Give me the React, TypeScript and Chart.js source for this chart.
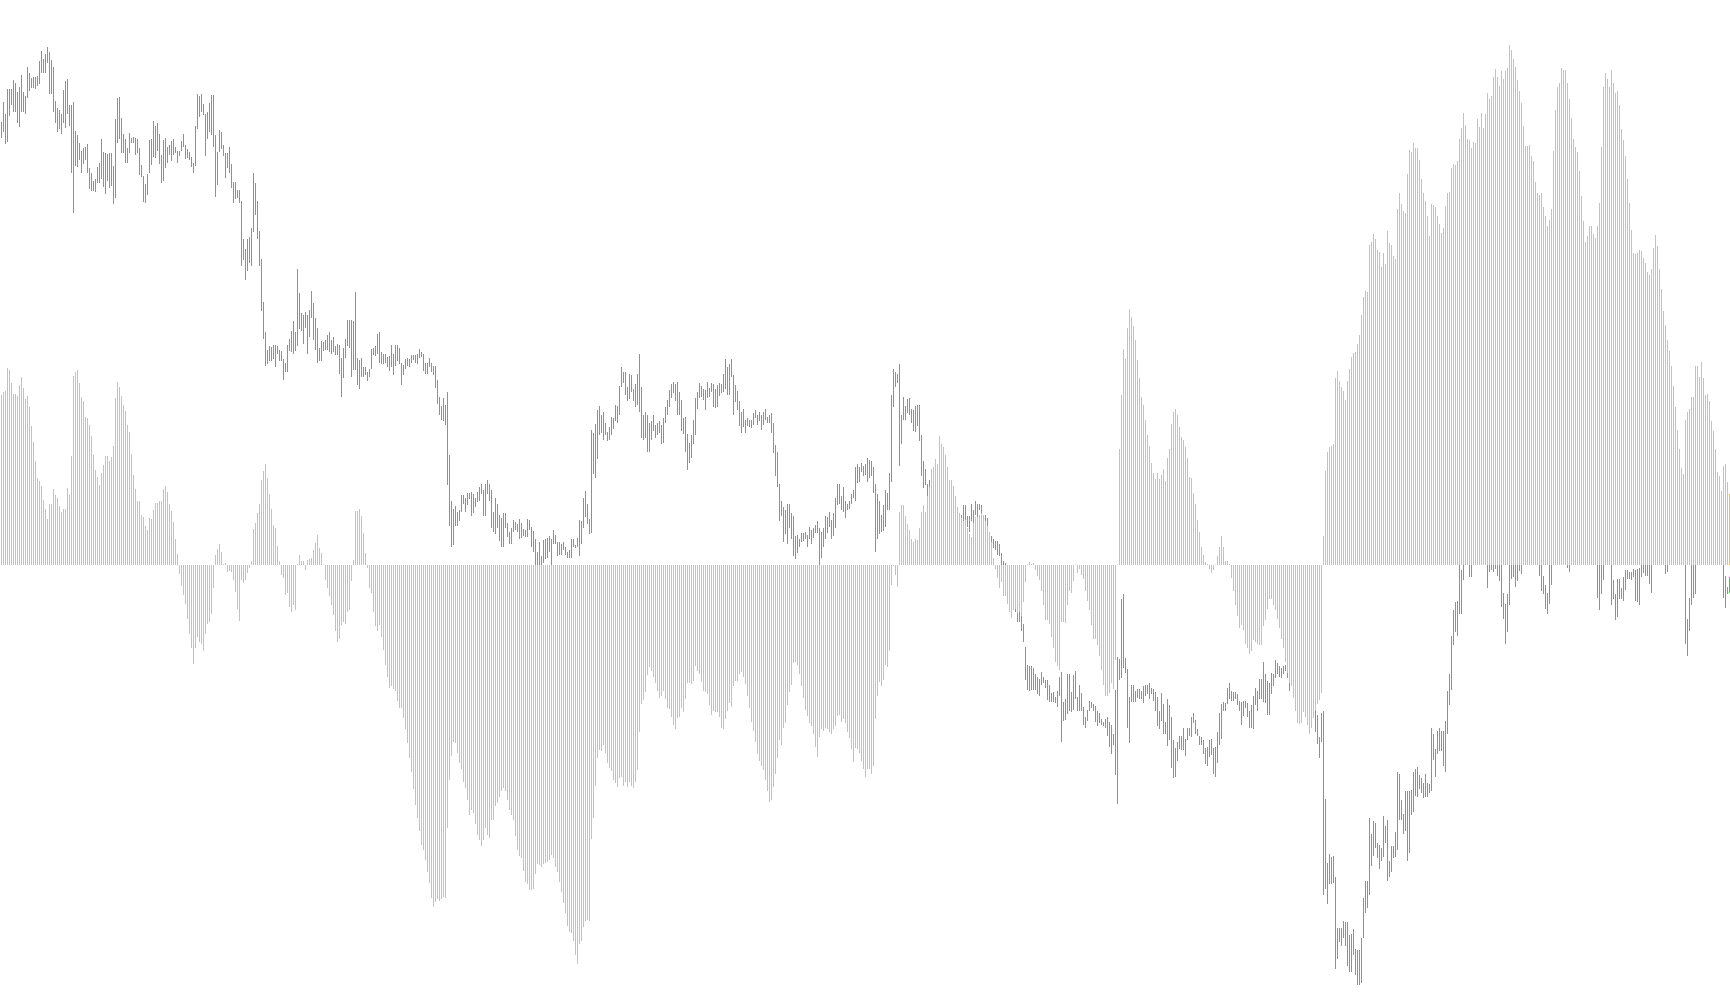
import React, { useEffect, useRef } from "react";
import { Chart, registerables } from "chart.js";

Chart.register(...registerables);

// Histogram (yellow) values, one per bar
const histogram: number[] = [
  170,173,174,197,195,182,171,171,169,180,
  188,177,166,169,158,139,123,104,87,84,
  79,65,56,46,61,61,76,70,67,59,
  53,56,56,77,70,109,189,193,195,182,
  168,164,148,147,140,129,110,95,88,80,
  92,100,109,109,104,108,119,167,183,178,
  169,160,154,140,133,111,90,76,64,64,
  50,48,39,35,47,46,55,62,62,64,
  64,76,79,73,61,54,43,26,11,-9,
  -21,-30,-39,-54,-69,-83,-99,-83,-72,-77,
  -79,-86,-69,-59,-57,-49,-23,10,16,21,
  13,1,2,-7,-6,-7,-15,-27,-44,-56,
  -15,-18,-15,-8,-3,4,36,42,52,61,
  85,94,101,87,71,56,40,37,19,4,
  -10,-13,-30,-28,-42,
  -47,-40,-45,1,10,4,4,-5,5,6,
  7,15,22,30,17,12,0.5,-15,-23,-31,
  -40,-50,-66,-77,-74,-60,-57,-59,-47,-45,
  -16,5,54,54,56,49,32,12,-3,-23,
  -28,-47,-61,-66,-60,-72,-85,-100,-112,-123,
  -121,-124,-126,-136,-143,-143,-153,-164,-178,-193,
  -207,-224,-240,-253,-266,-280,-285,-295,-307,-318,
  -333,-342,-337,-334,-336,-334,-332,-333,-263,-215,
  -191,-177,-178,-188,-198,-204,-217,-223,-235,-250,
  -245,-248,-259,-270,-275,-281,-275,-263,-270,-273,
  -255,-255,-241,-238,-232,-226,-223,-226,-235,-245,
  -250,-255,-271,-285,-291,-293,-306,-317,-319,-325,
  -325,-324,-309,-299,-300,-302,-299,-298,-297,-295,
  -290,-293,-302,-307,-317,-327,-338,-348,-361,-367,
  -368,-376,-390,-399,-379,
  -376,-362,-356,-355,-356,-274,-253,-221,-193,-185,
  -186,-180,-188,-198,-203,-206,-215,-218,-222,-213,
  -212,-221,-217,-222,-217,-221,-223,-217,-205,-167,
  -139,-135,-127,-110,-102,-106,-112,-118,-126,-133,
  -131,-126,-134,-143,-144,-152,-160,-164,-153,-152,
  -143,-147,-134,-118,-118,-119,-116,-101,-106,-109,
  -117,-126,-127,-129,-140,-150,-146,-147,-147,-152,
  -163,-164,-154,-146,-138,-142,-121,-116,-116,-109,
  -107,-112,-119,-131,-143,-157,-166,-177,-189,-196,
  -201,-205,-215,-226,-237,-235,-222,-209,-193,-175,
  -180,-163,-158,-140,-127,-120,-98,-97,-100,-109,
  -121,-133,-145,-151,-158,-161,-169,-182,-192,-172,
  -164,-166,-163,-164,-167,-169,-164,-161,-151,-150,
  -157,-154,-158,-167,-173,-184,-197,-183,-184,-188,
  -196,-204,-212,-204,-204,
  -209,-201,-154,-131,-117,-121,-115,-100,-102,-86,
  -20,-1,-10,-22,53,60,60,49,41,35,
  26,23,26,25,37,53,60,53,69,78,
  96,98,106,101,129,121,118,110,98,85,
  85,79,69,58,52,47,44,45,37,31,
  28,42,48,48,50,52,50,44,39,33,
  23,7,-4,-13,-23,-17,-31,-31,-39,-47,
  -53,-45,-44,-48,-47,-51,-37,-17,0.5,3,
  1,2,-5,-11,-15,-26,-40,-55,-55,-59,
  -72,-83,-97,-101,-105,-57,-57,-58,-40,-26,
  -28,-16,0.5,-8,-4,-10,-14,-26,-36,-45,
  -60,-74,-74,-80,-91,-105,-120,-131,-131,-128,
  -118,-124,-95,0.5,116,170,216,206,237,256,
  248,239,225,205,187,168,160,145,130,119,
  102,92,86,92,86,
  90,96,84,107,116,141,153,156,150,138,
  128,125,118,107,88,87,72,61,45,33,
  18,10,3,1,-4,-8,-5,0.5,9,18,
  29,18,4,4,1,-13,-26,-40,-51,-63,
  -60,-65,-79,-83,-89,-86,-75,-77,-79,-80,
  -80,-61,-55,-44,-34,-34,-40,-45,-54,-63,
  -74,-83,-97,-108,-118,-121,-133,-146,-158,-159,
  -158,-147,-152,-160,-169,-163,-153,-146,-139,-135,
  -128,29,94,113,118,119,121,187,194,184,
  178,174,165,184,196,208,212,213,221,230,
  250,268,274,273,320,323,331,326,315,313,
  298,312,301,334,322,320,309,306,356,372,
  361,354,352,391,415,413,422,417,417,405,
  386,372,364,349,329,361,360,358,349,341,
  332,337,359,372,373,
  397,401,400,404,426,437,452,440,426,425,
  417,423,422,446,438,452,437,451,472,466,
  469,488,496,488,479,494,486,494,497,520,
  515,506,498,485,474,462,439,419,419,420,
  409,404,383,372,370,372,358,349,339,345,
  356,414,455,478,482,497,495,495,482,466,
  447,426,418,413,394,369,344,323,329,339,
  339,331,327,339,362,418,478,492,486,478,
  495,482,472,474,460,436,425,409,386,362,
  335,312,311,312,315,314,307,302,293,290,
  296,317,330,319,296,276,254,240,225,214,
  199,179,158,135,116,97,91,145,153,156,
  168,168,199,199,188,203,187,170,171,164,
  144,134,116,93,89,74,99,101,83,71,
];

// Price range bars (green): high of each bar
const barHigh: number[] = [
  443,463,451,476,476,476,485,482,473,478,
  490,473,469,498,492,487,488,488,489,504,
  514,506,511,518,513,505,498,464,457,455,
  451,475,484,486,460,460,463,434,430,422,
  414,417,418,421,397,392,384,386,398,402,
  426,413,412,411,412,412,399,446,467,468,
  447,431,426,417,432,427,428,427,426,417,
  400,389,381,391,425,426,444,439,442,431,
  410,425,427,418,420,424,426,418,414,414,
  424,431,420,416,413,408,402,439,471,469,
  471,461,451,453,462,470,470,430,413,435,
  433,420,412,412,418,401,383,383,375,375,
  364,326,316,326,328,337,392,382,364,334,
  306,263,233,215,219,218,220,220,219,215,
  214,206,202,220,226,
  234,244,233,296,272,252,250,253,250,255,
  274,262,247,237,217,224,223,225,230,233,
  225,228,219,221,220,207,217,226,245,245,
  245,244,273,207,205,207,198,198,193,196,
  216,217,219,231,233,213,211,211,208,209,
  220,211,220,220,217,202,200,206,207,206,
  210,210,210,211,216,213,211,202,202,207,
  202,199,199,185,168,159,167,160,173,110,
  64,56,59,53,55,70,70,67,72,72,
  73,71,67,73,78,81,75,81,85,81,
  75,53,67,61,50,47,52,52,42,33,
  37,45,43,41,46,42,36,35,46,45,
  38,34,26,13,23,9,25,26,27,29,
  26,35,30,23,23,21,23,18,13,15,
  26,26,20,27,45,
  44,67,74,61,46,135,132,141,155,159,
  150,153,142,133,138,148,147,160,159,179,
  198,193,193,178,191,190,176,181,191,211,
  178,150,153,150,142,144,150,140,142,144,
  140,147,158,165,175,181,183,181,183,173,
  165,147,148,131,122,130,145,167,173,182,
  179,176,175,183,177,182,181,176,180,182,
  181,191,206,198,201,206,190,180,174,164,
  153,156,145,147,145,145,152,155,150,153,
  150,153,156,148,150,152,142,120,113,81,
  64,58,55,61,61,52,49,29,30,26,
  32,32,33,30,38,35,37,40,44,37,
  33,37,49,48,53,45,52,67,81,81,
  69,78,64,61,64,71,75,98,101,98,
  102,99,101,107,105,
  104,98,81,71,64,50,60,75,72,92,
  170,196,193,191,201,150,168,159,166,167,
  156,155,159,160,160,130,104,96,81,85,
  80,78,74,70,72,68,64,66,62,60,
  62,58,55,53,50,50,60,60,49,49,
  61,55,64,61,61,60,50,50,47,33,
  29,26,24,24,21,12,4,2,-5,-10,
  -15,-20,-36,-39,-45,-36,-59,-82,-100,-101,
  -101,-103,-109,-112,-114,-107,-112,-115,-115,-120,
  -128,-127,-132,-126,-112,-107,-137,-134,-109,-109,
  -127,-110,-106,-132,-120,-128,-142,-152,-145,-136,
  -137,-139,-141,-146,-148,-154,-157,-154,-152,-157,
  -160,-169,-125,-92,-94,-34,-29,-93,-104,-132,
  -120,-120,-126,-124,-124,-126,-121,-120,-120,-118,
  -123,-124,-127,-132,-146,
  -128,-139,-157,-134,-140,-152,-175,-183,-177,-171,
  -171,-163,-174,-163,-163,-152,-148,-155,-164,-171,
  -172,-175,-183,-182,-175,-174,-183,-182,-167,-148,
  -139,-137,-138,-123,-118,-126,-127,-127,-129,-136,
  -137,-136,-136,-138,-146,-140,-131,-123,-126,-114,
  -114,-97,-109,-116,-118,-108,-109,-95,-98,-101,
  -103,-101,-100,-105,-112,-108,-112,-118,-125,-130,
  -128,-122,-125,-132,-140,-138,-135,-146,-150,-172,
  -148,-146,-234,-298,-289,-292,-291,-312,-363,-363,
  -363,-356,-357,-357,-370,-369,-364,-384,-385,-385,
  -373,-333,-316,-316,-253,-269,-256,-258,-278,-280,
  -283,-251,-261,-255,-296,-281,-281,-267,-207,-209,
  -235,-249,-226,-226,-226,-225,-207,-204,-202,-210,
  -213,-218,-209,-218,-219,-163,-169,-184,-166,-163,
  -166,-166,-156,-126,-109,
  -71,-45,-37,-36,8,-5,10,20,25,12,
  8,22,26,30,28,24,27,20,10,12,
  8,10,14,9,6,4,-28,-39,-29,5,
  10,12,6,9,15,12,18,24,28,32,
  26,22,25,18,10,5,-11,-20,-28,4,
  12,22,28,34,30,26,24,18,14,10,
  20,26,30,35,32,28,24,30,26,22,
  18,24,16,8,4,6,10,20,24,18,
  5,-15,-29,-14,-14,-23,-12,-5,-5,-7,
  -7,-4,-5,-4,-3,8,10,9,8,6,
  4,14,20,26,22,18,14,8,10,16,
  22,28,24,20,16,18,12,6,-54,-33,
  5,8,10,18,22,26,30,28,24,20,
  24,18,14,18,12,10,6,-11,-22,-12,
];

// Price range bars (green): low of each bar
const barLow: number[] = [
  427,433,421,423,449,460,453,453,442,438,
  453,453,451,467,474,477,477,476,479,481,
  492,492,492,502,471,471,453,442,433,436,
  431,442,437,451,439,392,352,399,398,405,
  392,401,405,392,376,374,374,373,382,382,
  386,378,371,384,377,379,361,367,422,426,
  412,412,402,402,412,422,422,410,412,390,
  388,363,362,370,392,400,408,407,414,401,
  382,384,397,402,410,404,410,412,402,409,
  414,418,406,407,405,398,392,399,436,448,
  453,450,409,426,433,430,418,368,380,413,
  416,409,387,397,392,377,362,366,367,362,
  299,305,285,294,302,299,333,350,326,299,
  254,226,199,201,204,204,206,198,211,204,
  204,185,193,193,214,
  213,211,214,219,236,234,221,237,211,228,
  247,225,215,202,204,204,214,215,215,213,
  211,213,210,210,191,168,187,207,219,217,
  188,195,195,180,176,188,188,190,184,188,
  196,210,209,211,202,201,201,202,198,194,
  198,190,199,204,201,180,190,196,199,198,
  202,205,202,201,207,208,194,191,191,198,
  193,190,177,161,150,145,144,140,80,39,
  18,20,39,39,44,53,61,53,60,66,
  49,52,58,63,64,71,49,49,71,64,
  37,33,31,37,24,18,18,37,28,21,
  21,33,35,33,26,27,29,28,28,35,
  18,13,-5,-8,-6,-10,2,6,7,13,
  -3,21,21,9,10,10,15,10,7,7,
  7,18,17,18,9,
  21,37,48,41,31,32,91,87,106,130,
  132,125,130,124,125,130,136,144,142,150,
  178,182,170,164,166,173,164,158,160,153,
  127,125,127,113,113,125,134,127,130,132,
  121,122,142,150,158,167,172,164,150,150,
  134,131,113,95,102,107,121,130,156,167,
  168,165,155,167,168,173,158,157,158,169,
  172,173,176,170,170,188,150,163,155,139,
  132,138,132,139,138,137,140,147,140,144,
  135,140,145,142,142,132,112,89,78,44,
  49,23,31,21,37,26,9,6,12,18,
  23,24,26,18,26,21,27,32,32,-5,
  7,18,26,32,38,26,29,37,60,61,
  55,53,47,55,56,61,67,64,82,83,
  93,89,90,83,87,
  89,72,13,26,31,33,34,38,55,55,
  83,158,178,182,99,121,145,145,152,150,
  142,134,133,139,124,89,77,80,69,75,
  66,64,60,58,60,55,52,54,50,47,
  49,46,43,41,39,38,44,39,38,33,
  44,41,50,47,55,50,38,39,37,27,
  21,17,15,10,9,-3,-5,-8,-25,-30,
  -35,-38,-47,-57,-57,-66,-77,-115,-125,-126,
  -125,-125,-125,-129,-131,-120,-118,-123,-135,-137,
  -137,-137,-138,-142,-131,-177,-156,-155,-149,-146,
  -147,-145,-134,-146,-146,-146,-160,-163,-156,-146,
  -143,-146,-157,-161,-158,-160,-161,-163,-171,-182,
  -189,-180,-210,-239,-115,-113,-103,-108,-163,-178,
  -137,-137,-137,-133,-134,-134,-138,-131,-129,-134,
  -129,-136,-146,-161,-164,
  -156,-169,-169,-181,-175,-203,-213,-212,-196,-184,
  -185,-185,-191,-175,-171,-172,-158,-169,-171,-180,
  -180,-189,-199,-201,-192,-190,-209,-212,-198,-180,
  -174,-146,-146,-139,-134,-136,-136,-134,-140,-146,
  -160,-151,-143,-152,-163,-163,-164,-140,-146,-134,
  -134,-137,-138,-150,-150,-129,-121,-113,-109,-112,
  -113,-109,-106,-113,-126,-118,-128,-138,-148,-150,
  -145,-140,-145,-155,-162,-158,-150,-167,-179,-193,
  -177,-330,-324,-339,-319,-319,-318,-404,-394,-377,
  -381,-373,-381,-401,-407,-407,-390,-410,-420,-420,
  -418,-373,-348,-343,-330,-301,-291,-283,-293,-304,
  -296,-292,-278,-316,-312,-307,-293,-292,-285,-255,
  -255,-269,-266,-296,-288,-250,-247,-231,-232,-224,
  -228,-233,-232,-232,-228,-226,-195,-212,-189,-186,
  -186,-201,-207,-169,-140,
  -125,-80,-67,-71,-49,-49,-15,5,8,-12,
  -12,4,9,12,10,6,8,3,-23,-7,
  -5,-7,-4,-11,-16,-42,-54,-79,-67,-40,
  -14,-12,-22,-16,-6,-9,2,6,10,14,
  8,5,7,3,-11,-26,-29,-44,-49,-39,
  -20,4,9,14,12,8,6,3,-3,-7,
  3,8,12,16,14,10,6,12,8,5,
  4,6,2,-33,-45,-29,-15,3,6,3,
  -40,-34,-55,-52,-34,-34,-36,-25,-14,-14,
  -15,-12,-36,-37,-40,-12,-8,-11,-11,-19,
  -28,2,5,8,6,4,2,-9,-7,3,
  6,10,8,5,3,4,2,-79,-91,-66,
  -40,-33,-29,3,6,8,12,10,7,5,
  8,4,3,5,2,2,-33,-43,-29,-28,
];

const YELLOW = "#F0C828";
const GREEN = "#22DD22";

const barCount = Math.min(histogram.length, barHigh.length, barLow.length);
const barIndex: number[] = Array.from({ length: barCount }, (_, i) => i);

const X_MIN = -0.75;
const X_MAX = 864.25;

export default function App() {
  const ref = useRef<HTMLCanvasElement | null>(null);

  useEffect(() => {
    document.body.style.margin = "0";
    const canvas = ref.current;
    if (!canvas) return;
    const barOpts = {
      borderWidth: 0,
      barThickness: 1,
      maxBarThickness: 1,
      inflateAmount: 0,
      grouped: false,
    };
    const chart = new Chart(canvas, {
      type: "bar",
      data: {
        datasets: [
          {
            label: "Histogram",
            data: barIndex.map((i) => ({ x: i, y: histogram[i] })),
            backgroundColor: YELLOW,
            xAxisID: "x",
            order: 0,
            ...barOpts,
          } as any,
          {
            label: "Range",
            data: barIndex.map((i) => ({ x: i, y: [barLow[i], barHigh[i]] })),
            backgroundColor: GREEN,
            xAxisID: "x2",
            order: 1,
            ...barOpts,
          } as any,
        ],
      },
      options: {
        responsive: false,
        animation: false,
        devicePixelRatio: 1,
        layout: { padding: 0 },
        datasets: { bar: { grouped: false, inflateAmount: 0 } },
        plugins: {
          legend: { display: false },
          tooltip: { enabled: false },
        },
        scales: {
          x: { type: "linear", display: false, offset: false, min: X_MIN, max: X_MAX },
          x2: { type: "linear", axis: "x", position: "bottom", display: false, offset: false, min: X_MIN, max: X_MAX },
          y: { display: false, min: -440, max: 565 },
        },
      } as any,
    });
    return () => chart.destroy();
  }, []);

  return (
    <canvas
      ref={ref}
      width={1730}
      height={1005}
      style={{ display: "block", width: 1730, height: 1005 }}
    />
  );
}
